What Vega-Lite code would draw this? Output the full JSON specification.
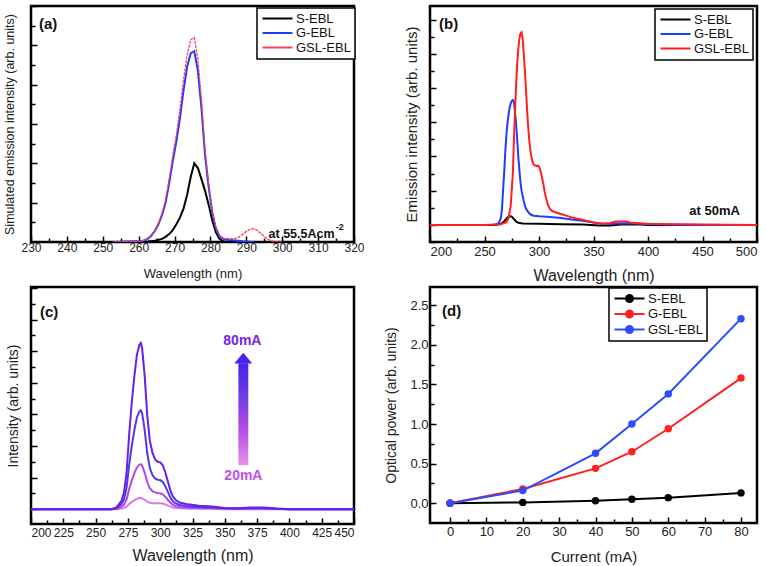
{
"$schema": "https://vega.github.io/schema/vega-lite/v6.json",
"padding": {"left": 2, "top": 4, "right": 5, "bottom": 2},
"background": "white",
"config": {
 "font": "Liberation Sans",
 "view": {"stroke": "#000", "strokeWidth": 2.5},
 "axis": {"domain": false, "grid": false, "tickColor": "#000", "tickWidth": 1.5, "labelColor": "#222", "titleColor": "#222", "titleFontWeight": "normal", "labelFont": "Liberation Sans", "titleFont": "Liberation Sans", "labelFlush": false, "labelOverlap": false},
 "legend": {"title": null, "orient": "none", "fillColor": "white", "strokeColor": "#000", "strokeWidth": 1.5, "padding": 4, "rowPadding": 0.5, "labelFontSize": 13, "labelColor": "#111", "symbolType": "M-3,0L3,0", "symbolSize": 100, "symbolStrokeWidth": 2, "symbolOffset": 10, "labelOffset": 12}
},
"datasets": {
 "a": [
  {"s":"S-EBL","x":255,"y":0},{"s":"S-EBL","x":262.5,"y":0.01},{"s":"S-EBL","x":264.5,"y":0.03},{"s":"S-EBL","x":266.5,"y":0.08},{"s":"S-EBL","x":267.5,"y":0.13},{"s":"S-EBL","x":268.5,"y":0.2},{"s":"S-EBL","x":269.5,"y":0.3},{"s":"S-EBL","x":270.5,"y":0.45},{"s":"S-EBL","x":271.5,"y":0.62},{"s":"S-EBL","x":272.5,"y":0.85},{"s":"S-EBL","x":273.5,"y":1.2},{"s":"S-EBL","x":274.5,"y":1.65},{"s":"S-EBL","x":275.5,"y":2.0},{"s":"S-EBL","x":276.5,"y":1.88},{"s":"S-EBL","x":277.5,"y":1.6},{"s":"S-EBL","x":278.5,"y":1.3},{"s":"S-EBL","x":279.5,"y":0.95},{"s":"S-EBL","x":280.5,"y":0.55},{"s":"S-EBL","x":281.5,"y":0.25},{"s":"S-EBL","x":282.5,"y":0.08},{"s":"S-EBL","x":283.5,"y":0.02},{"s":"S-EBL","x":284.5,"y":0},{"s":"S-EBL","x":292,"y":0},
  {"s":"G-EBL","x":253,"y":0},{"s":"G-EBL","x":258,"y":0.01},{"s":"G-EBL","x":260.5,"y":0.02},{"s":"G-EBL","x":261.5,"y":0.04},{"s":"G-EBL","x":262.5,"y":0.08},{"s":"G-EBL","x":263.5,"y":0.16},{"s":"G-EBL","x":264.5,"y":0.28},{"s":"G-EBL","x":265.5,"y":0.45},{"s":"G-EBL","x":266.5,"y":0.68},{"s":"G-EBL","x":267.5,"y":1.0},{"s":"G-EBL","x":268.5,"y":1.5},{"s":"G-EBL","x":269.5,"y":2.05},{"s":"G-EBL","x":270.5,"y":2.55},{"s":"G-EBL","x":271.5,"y":3.15},{"s":"G-EBL","x":272.5,"y":3.85},{"s":"G-EBL","x":273.5,"y":4.45},{"s":"G-EBL","x":274.5,"y":4.8},{"s":"G-EBL","x":275.5,"y":4.85},{"s":"G-EBL","x":276.5,"y":4.35},{"s":"G-EBL","x":277.5,"y":3.4},{"s":"G-EBL","x":278.5,"y":2.2},{"s":"G-EBL","x":279.5,"y":1.4},{"s":"G-EBL","x":280.5,"y":0.75},{"s":"G-EBL","x":281.5,"y":0.35},{"s":"G-EBL","x":282.5,"y":0.15},{"s":"G-EBL","x":283.5,"y":0.08},{"s":"G-EBL","x":285,"y":0.05},{"s":"G-EBL","x":287,"y":0.04},{"s":"G-EBL","x":289,"y":0.02},{"s":"G-EBL","x":292,"y":0},
  {"s":"GSL-EBL","x":253,"y":0},{"s":"GSL-EBL","x":258,"y":0.01},{"s":"GSL-EBL","x":260.5,"y":0.02},{"s":"GSL-EBL","x":261.5,"y":0.04},{"s":"GSL-EBL","x":262.5,"y":0.09},{"s":"GSL-EBL","x":263.5,"y":0.17},{"s":"GSL-EBL","x":264.5,"y":0.3},{"s":"GSL-EBL","x":265.5,"y":0.48},{"s":"GSL-EBL","x":266.5,"y":0.73},{"s":"GSL-EBL","x":267.5,"y":1.07},{"s":"GSL-EBL","x":268.5,"y":1.6},{"s":"GSL-EBL","x":269.5,"y":2.2},{"s":"GSL-EBL","x":270.5,"y":2.73},{"s":"GSL-EBL","x":271.5,"y":3.37},{"s":"GSL-EBL","x":272.5,"y":4.12},{"s":"GSL-EBL","x":273.5,"y":4.76},{"s":"GSL-EBL","x":274.5,"y":5.14},{"s":"GSL-EBL","x":275.5,"y":5.2},{"s":"GSL-EBL","x":276.5,"y":4.65},{"s":"GSL-EBL","x":277.5,"y":3.6},{"s":"GSL-EBL","x":278.5,"y":2.35},{"s":"GSL-EBL","x":279.5,"y":1.5},{"s":"GSL-EBL","x":280.5,"y":0.8},{"s":"GSL-EBL","x":281.5,"y":0.38},{"s":"GSL-EBL","x":282.5,"y":0.17},{"s":"GSL-EBL","x":283.5,"y":0.1},{"s":"GSL-EBL","x":285,"y":0.08},{"s":"GSL-EBL","x":287,"y":0.09},{"s":"GSL-EBL","x":288,"y":0.13},{"s":"GSL-EBL","x":289,"y":0.2},{"s":"GSL-EBL","x":290,"y":0.27},{"s":"GSL-EBL","x":291,"y":0.32},{"s":"GSL-EBL","x":292,"y":0.34},{"s":"GSL-EBL","x":293,"y":0.3},{"s":"GSL-EBL","x":294,"y":0.22},{"s":"GSL-EBL","x":295,"y":0.14},{"s":"GSL-EBL","x":296,"y":0.07},{"s":"GSL-EBL","x":297,"y":0.03},{"s":"GSL-EBL","x":298,"y":0.01},{"s":"GSL-EBL","x":300,"y":0}
 ],
 "b": [
  {"s":"S-EBL","x":200,"y":0},{"s":"S-EBL","x":260,"y":0},{"s":"S-EBL","x":265,"y":0.03},{"s":"S-EBL","x":268,"y":0.1},{"s":"S-EBL","x":270,"y":0.18},{"s":"S-EBL","x":272,"y":0.24},{"s":"S-EBL","x":273,"y":0.26},{"s":"S-EBL","x":275,"y":0.24},{"s":"S-EBL","x":277,"y":0.17},{"s":"S-EBL","x":279,"y":0.1},{"s":"S-EBL","x":281,"y":0.06},{"s":"S-EBL","x":285,"y":0.04},{"s":"S-EBL","x":300,"y":0.03},{"s":"S-EBL","x":320,"y":0.02},{"s":"S-EBL","x":340,"y":0.01},{"s":"S-EBL","x":355,"y":-0.02},{"s":"S-EBL","x":365,"y":-0.02},{"s":"S-EBL","x":375,"y":0.01},{"s":"S-EBL","x":390,"y":0.02},{"s":"S-EBL","x":400,"y":0},{"s":"S-EBL","x":485,"y":0},
  {"s":"G-EBL","x":258,"y":0},{"s":"G-EBL","x":260,"y":0.01},{"s":"G-EBL","x":263,"y":0.05},{"s":"G-EBL","x":265,"y":0.2},{"s":"G-EBL","x":266,"y":0.45},{"s":"G-EBL","x":267,"y":1.0},{"s":"G-EBL","x":268,"y":1.5},{"s":"G-EBL","x":269,"y":2.1},{"s":"G-EBL","x":270,"y":2.6},{"s":"G-EBL","x":271,"y":2.95},{"s":"G-EBL","x":272,"y":3.2},{"s":"G-EBL","x":273,"y":3.42},{"s":"G-EBL","x":274,"y":3.55},{"s":"G-EBL","x":275,"y":3.62},{"s":"G-EBL","x":276,"y":3.65},{"s":"G-EBL","x":277,"y":3.6},{"s":"G-EBL","x":278,"y":3.3},{"s":"G-EBL","x":279,"y":2.95},{"s":"G-EBL","x":280,"y":2.5},{"s":"G-EBL","x":281,"y":2.0},{"s":"G-EBL","x":282,"y":1.6},{"s":"G-EBL","x":283,"y":1.25},{"s":"G-EBL","x":284,"y":1.0},{"s":"G-EBL","x":285,"y":0.85},{"s":"G-EBL","x":286,"y":0.7},{"s":"G-EBL","x":287,"y":0.57},{"s":"G-EBL","x":288,"y":0.48},{"s":"G-EBL","x":290,"y":0.38},{"s":"G-EBL","x":292,"y":0.31},{"s":"G-EBL","x":295,"y":0.27},{"s":"G-EBL","x":300,"y":0.25},{"s":"G-EBL","x":310,"y":0.23},{"s":"G-EBL","x":320,"y":0.2},{"s":"G-EBL","x":330,"y":0.16},{"s":"G-EBL","x":340,"y":0.12},{"s":"G-EBL","x":350,"y":0.07},{"s":"G-EBL","x":360,"y":0.03},{"s":"G-EBL","x":370,"y":0.04},{"s":"G-EBL","x":380,"y":0.05},{"s":"G-EBL","x":390,"y":0.04},{"s":"G-EBL","x":400,"y":0.02},{"s":"G-EBL","x":420,"y":0.01},{"s":"G-EBL","x":450,"y":0},{"s":"G-EBL","x":500,"y":0},
  {"s":"GSL-EBL","x":200,"y":0},{"s":"GSL-EBL","x":250,"y":0},{"s":"GSL-EBL","x":265,"y":0.02},{"s":"GSL-EBL","x":270,"y":0.08},{"s":"GSL-EBL","x":272,"y":0.2},{"s":"GSL-EBL","x":274,"y":0.55},{"s":"GSL-EBL","x":276,"y":1.5},{"s":"GSL-EBL","x":277,"y":2.5},{"s":"GSL-EBL","x":278,"y":3.3},{"s":"GSL-EBL","x":279,"y":4.1},{"s":"GSL-EBL","x":280,"y":4.7},{"s":"GSL-EBL","x":281,"y":5.15},{"s":"GSL-EBL","x":282,"y":5.45},{"s":"GSL-EBL","x":283,"y":5.6},{"s":"GSL-EBL","x":284,"y":5.63},{"s":"GSL-EBL","x":285,"y":5.45},{"s":"GSL-EBL","x":286,"y":5.0},{"s":"GSL-EBL","x":287,"y":4.55},{"s":"GSL-EBL","x":288,"y":4.0},{"s":"GSL-EBL","x":289,"y":3.4},{"s":"GSL-EBL","x":290,"y":2.9},{"s":"GSL-EBL","x":291,"y":2.5},{"s":"GSL-EBL","x":292,"y":2.2},{"s":"GSL-EBL","x":293,"y":2.0},{"s":"GSL-EBL","x":294,"y":1.85},{"s":"GSL-EBL","x":295,"y":1.77},{"s":"GSL-EBL","x":296,"y":1.74},{"s":"GSL-EBL","x":297,"y":1.74},{"s":"GSL-EBL","x":298,"y":1.72},{"s":"GSL-EBL","x":299,"y":1.73},{"s":"GSL-EBL","x":300,"y":1.7},{"s":"GSL-EBL","x":301,"y":1.62},{"s":"GSL-EBL","x":302,"y":1.5},{"s":"GSL-EBL","x":303,"y":1.35},{"s":"GSL-EBL","x":304,"y":1.2},{"s":"GSL-EBL","x":305,"y":1.0},{"s":"GSL-EBL","x":306,"y":0.85},{"s":"GSL-EBL","x":307,"y":0.72},{"s":"GSL-EBL","x":308,"y":0.6},{"s":"GSL-EBL","x":310,"y":0.47},{"s":"GSL-EBL","x":312,"y":0.41},{"s":"GSL-EBL","x":315,"y":0.37},{"s":"GSL-EBL","x":320,"y":0.32},{"s":"GSL-EBL","x":325,"y":0.27},{"s":"GSL-EBL","x":330,"y":0.22},{"s":"GSL-EBL","x":335,"y":0.18},{"s":"GSL-EBL","x":340,"y":0.15},{"s":"GSL-EBL","x":345,"y":0.11},{"s":"GSL-EBL","x":350,"y":0.07},{"s":"GSL-EBL","x":355,"y":0.05},{"s":"GSL-EBL","x":360,"y":0.04},{"s":"GSL-EBL","x":365,"y":0.05},{"s":"GSL-EBL","x":370,"y":0.1},{"s":"GSL-EBL","x":375,"y":0.1},{"s":"GSL-EBL","x":380,"y":0.1},{"s":"GSL-EBL","x":385,"y":0.06},{"s":"GSL-EBL","x":390,"y":0.05},{"s":"GSL-EBL","x":400,"y":0.03},{"s":"GSL-EBL","x":420,"y":0.02},{"s":"GSL-EBL","x":450,"y":0.01},{"s":"GSL-EBL","x":500,"y":0}
 ],
 "c": [
  {"s":"20mA","x":200,"y":0},{"s":"20mA","x":262,"y":0},{"s":"20mA","x":266,"y":0},{"s":"20mA","x":270,"y":0.02},{"s":"20mA","x":272,"y":0.04},{"s":"20mA","x":274,"y":0.08},{"s":"20mA","x":276,"y":0.16},{"s":"20mA","x":278,"y":0.23},{"s":"20mA","x":280,"y":0.28},{"s":"20mA","x":282,"y":0.33},{"s":"20mA","x":284,"y":0.35},{"s":"20mA","x":285,"y":0.35},{"s":"20mA","x":286,"y":0.34},{"s":"20mA","x":288,"y":0.3},{"s":"20mA","x":290,"y":0.24},{"s":"20mA","x":292,"y":0.2},{"s":"20mA","x":294,"y":0.19},{"s":"20mA","x":296,"y":0.19},{"s":"20mA","x":298,"y":0.19},{"s":"20mA","x":300,"y":0.19},{"s":"20mA","x":302,"y":0.18},{"s":"20mA","x":304,"y":0.15},{"s":"20mA","x":306,"y":0.11},{"s":"20mA","x":308,"y":0.08},{"s":"20mA","x":310,"y":0.05},{"s":"20mA","x":312,"y":0.04},{"s":"20mA","x":315,"y":0.03},{"s":"20mA","x":320,"y":0.02},{"s":"20mA","x":330,"y":0.01},{"s":"20mA","x":340,"y":0.01},{"s":"20mA","x":350,"y":0},{"s":"20mA","x":450,"y":0},
  {"s":"40mA","x":200,"y":0},{"s":"40mA","x":262,"y":0},{"s":"40mA","x":266,"y":0.01},{"s":"40mA","x":270,"y":0.07},{"s":"40mA","x":272,"y":0.14},{"s":"40mA","x":274,"y":0.31},{"s":"40mA","x":276,"y":0.64},{"s":"40mA","x":278,"y":0.91},{"s":"40mA","x":280,"y":1.14},{"s":"40mA","x":282,"y":1.32},{"s":"40mA","x":284,"y":1.41},{"s":"40mA","x":285,"y":1.42},{"s":"40mA","x":286,"y":1.38},{"s":"40mA","x":288,"y":1.15},{"s":"40mA","x":290,"y":0.85},{"s":"40mA","x":292,"y":0.66},{"s":"40mA","x":294,"y":0.57},{"s":"40mA","x":296,"y":0.53},{"s":"40mA","x":298,"y":0.51},{"s":"40mA","x":300,"y":0.5},{"s":"40mA","x":302,"y":0.47},{"s":"40mA","x":304,"y":0.39},{"s":"40mA","x":306,"y":0.29},{"s":"40mA","x":308,"y":0.2},{"s":"40mA","x":310,"y":0.13},{"s":"40mA","x":312,"y":0.1},{"s":"40mA","x":315,"y":0.07},{"s":"40mA","x":320,"y":0.05},{"s":"40mA","x":330,"y":0.04},{"s":"40mA","x":340,"y":0.03},{"s":"40mA","x":350,"y":0.02},{"s":"40mA","x":360,"y":0.01},{"s":"40mA","x":370,"y":0.02},{"s":"40mA","x":380,"y":0.02},{"s":"40mA","x":390,"y":0.01},{"s":"40mA","x":400,"y":0},{"s":"40mA","x":450,"y":0},
  {"s":"60mA","x":200,"y":0},{"s":"60mA","x":262,"y":0},{"s":"60mA","x":266,"y":0.03},{"s":"60mA","x":270,"y":0.16},{"s":"60mA","x":272,"y":0.31},{"s":"60mA","x":274,"y":0.69},{"s":"60mA","x":276,"y":1.41},{"s":"60mA","x":278,"y":2.0},{"s":"60mA","x":280,"y":2.5},{"s":"60mA","x":282,"y":2.91},{"s":"60mA","x":284,"y":3.1},{"s":"60mA","x":285,"y":3.13},{"s":"60mA","x":286,"y":3.04},{"s":"60mA","x":288,"y":2.5},{"s":"60mA","x":290,"y":1.76},{"s":"60mA","x":292,"y":1.3},{"s":"60mA","x":294,"y":1.08},{"s":"60mA","x":296,"y":0.97},{"s":"60mA","x":298,"y":0.93},{"s":"60mA","x":300,"y":0.92},{"s":"60mA","x":302,"y":0.86},{"s":"60mA","x":304,"y":0.72},{"s":"60mA","x":306,"y":0.54},{"s":"60mA","x":308,"y":0.36},{"s":"60mA","x":310,"y":0.24},{"s":"60mA","x":312,"y":0.18},{"s":"60mA","x":315,"y":0.13},{"s":"60mA","x":320,"y":0.1},{"s":"60mA","x":330,"y":0.07},{"s":"60mA","x":340,"y":0.05},{"s":"60mA","x":350,"y":0.03},{"s":"60mA","x":360,"y":0.02},{"s":"60mA","x":370,"y":0.03},{"s":"60mA","x":380,"y":0.03},{"s":"60mA","x":390,"y":0.01},{"s":"60mA","x":400,"y":0},{"s":"60mA","x":450,"y":0},
  {"s":"80mA","x":200,"y":0},{"s":"80mA","x":262,"y":0},{"s":"80mA","x":266,"y":0.05},{"s":"80mA","x":270,"y":0.26},{"s":"80mA","x":272,"y":0.53},{"s":"80mA","x":274,"y":1.16},{"s":"80mA","x":276,"y":2.37},{"s":"80mA","x":278,"y":3.37},{"s":"80mA","x":280,"y":4.21},{"s":"80mA","x":282,"y":4.89},{"s":"80mA","x":284,"y":5.21},{"s":"80mA","x":285,"y":5.26},{"s":"80mA","x":286,"y":5.1},{"s":"80mA","x":288,"y":4.21},{"s":"80mA","x":290,"y":2.95},{"s":"80mA","x":292,"y":2.16},{"s":"80mA","x":294,"y":1.79},{"s":"80mA","x":296,"y":1.58},{"s":"80mA","x":298,"y":1.5},{"s":"80mA","x":300,"y":1.48},{"s":"80mA","x":302,"y":1.39},{"s":"80mA","x":304,"y":1.16},{"s":"80mA","x":306,"y":0.87},{"s":"80mA","x":308,"y":0.58},{"s":"80mA","x":310,"y":0.39},{"s":"80mA","x":312,"y":0.29},{"s":"80mA","x":315,"y":0.21},{"s":"80mA","x":320,"y":0.16},{"s":"80mA","x":330,"y":0.11},{"s":"80mA","x":340,"y":0.08},{"s":"80mA","x":350,"y":0.04},{"s":"80mA","x":360,"y":0.03},{"s":"80mA","x":370,"y":0.05},{"s":"80mA","x":380,"y":0.05},{"s":"80mA","x":390,"y":0.02},{"s":"80mA","x":400,"y":0},{"s":"80mA","x":450,"y":0}
 ],
 "d": [
  {"s":"S-EBL","x":0,"y":0},{"s":"S-EBL","x":20,"y":0.01},{"s":"S-EBL","x":40,"y":0.03},{"s":"S-EBL","x":50,"y":0.05},{"s":"S-EBL","x":60,"y":0.07},{"s":"S-EBL","x":80,"y":0.13},
  {"s":"G-EBL","x":0,"y":0},{"s":"G-EBL","x":20,"y":0.18},{"s":"G-EBL","x":40,"y":0.44},{"s":"G-EBL","x":50,"y":0.65},{"s":"G-EBL","x":60,"y":0.94},{"s":"G-EBL","x":80,"y":1.58},
  {"s":"GSL-EBL","x":0,"y":0},{"s":"GSL-EBL","x":20,"y":0.16},{"s":"GSL-EBL","x":40,"y":0.63},{"s":"GSL-EBL","x":50,"y":1.0},{"s":"GSL-EBL","x":60,"y":1.38},{"s":"GSL-EBL","x":80,"y":2.33}
 ],
 "one": [{"k": 1}]
},
"columns": 2,
"spacing": {"row": 45, "column": 76},
"bounds": "flush",
"resolve": {"scale": {"color": "independent"}, "legend": {"color": "independent"}},
"concat": [
  {"width": 323, "height": 236,
   "resolve": {"axis": {"x": "independent", "y": "independent"}},
   "layer": [
    {"data": {"name": "a"}, "transform": [{"filter": "datum.s !== 'GSL-EBL'"}], "mark": {"type": "line", "strokeWidth": 2, "clip": true},
     "encoding": {
      "x": {"field": "x", "type": "quantitative", "scale": {"domain": [230, 320], "nice": false, "zero": false},
        "axis": {"title": "Wavelength (nm)", "titleFontSize": 13, "titlePadding": 12, "labelFontSize": 12, "labelPadding": 6,
          "values": [230,235,240,245,250,255,260,265,270,275,280,285,290,295,300,305,310,315,320],
          "labelExpr": "datum.value % 10 === 0 ? datum.label : ''",
          "tickSize": {"condition": {"test": "datum.value % 10 === 0", "value": -6}, "value": -4}}},
      "y": {"field": "y", "type": "quantitative", "scale": {"domain": [0, 6], "nice": false, "zero": false},
        "axis": {"title": "Simulated emission intensity (arb. units)", "titleFontSize": 12.5, "titlePadding": 14, "labels": false,
          "values": [0,0.5,1,1.5,2,2.5,3,3.5,4,4.5,5,5.5,6],
          "tickSize": {"condition": {"test": "datum.value % 1 === 0", "value": -6}, "value": -4}}},
      "color": {"field": "s", "type": "nominal", "scale": {"domain": ["S-EBL","G-EBL","GSL-EBL"], "range": ["#000000","#1f3cff","#ff4055"]},
       "legend": {"legendX": 226, "legendY": 2}}}},
    {"data": {"name": "a"}, "transform": [{"filter": "datum.s === 'GSL-EBL'"}], "mark": {"type": "line", "strokeWidth": 1.3, "strokeDash": [3, 1], "clip": true},
     "encoding": {"x": {"field": "x", "type": "quantitative", "axis": null}, "y": {"field": "y", "type": "quantitative", "axis": null}, "color": {"field": "s", "type": "nominal"}}},
    {"data": {"name": "one"}, "mark": {"type": "text", "text": "(a)", "fontSize": 15, "fontWeight": "bold", "align": "left", "baseline": "middle", "color": "#111"},
     "encoding": {"x": {"datum": 232.2, "type": "quantitative", "axis": null}, "y": {"datum": 5.55, "type": "quantitative", "axis": null}}},
    {"data": {"name": "one"}, "mark": {"type": "text", "text": "at 55.5Acm", "fontSize": 12.5, "fontWeight": "bold", "align": "left", "baseline": "middle", "color": "#111"},
     "encoding": {"x": {"datum": 296.2, "type": "quantitative", "axis": null}, "y": {"datum": 0.2, "type": "quantitative", "axis": null}}},
    {"data": {"name": "one"}, "mark": {"type": "text", "text": "-2", "fontSize": 9, "fontWeight": "bold", "align": "left", "baseline": "middle", "color": "#111"},
     "encoding": {"x": {"datum": 314.9, "type": "quantitative", "axis": null}, "y": {"datum": 0.38, "type": "quantitative", "axis": null}}}
   ]
  },
  {"width": 327, "height": 236,
   "resolve": {"axis": {"x": "independent", "y": "independent"}},
   "layer": [
    {"data": {"name": "b"}, "mark": {"type": "line", "strokeWidth": 2, "clip": true},
     "encoding": {
      "x": {"field": "x", "type": "quantitative", "scale": {"domain": [200, 500], "nice": false, "zero": false},
        "axis": {"title": "Wavelength (nm)", "titleFontSize": 16, "titlePadding": 7, "labelFontSize": 13, "labelPadding": 9, "labelFlush": true,
          "values": [200,225,250,275,300,325,350,375,400,425,450,475,500],
          "labelExpr": "datum.value % 50 === 0 ? datum.label : ''",
          "tickSize": {"condition": {"test": "datum.value % 50 === 0", "value": -6}, "value": -4}}},
      "y": {"field": "y", "type": "quantitative", "scale": {"domain": [-0.5, 6.4], "nice": false, "zero": false},
        "axis": {"title": "Emission intensity (arb. units)", "titleFontSize": 15, "titlePadding": 10, "labels": false,
          "values": [-0.5,0,0.5,1,1.5,2,2.5,3,3.5,4,4.5,5,5.5,6],
          "tickSize": {"condition": {"test": "datum.value % 1 === 0", "value": -6}, "value": -4}}},
      "color": {"field": "s", "type": "nominal", "scale": {"domain": ["S-EBL","G-EBL","GSL-EBL"], "range": ["#000000","#1f3cff","#ff1f1f"]},
       "legend": {"legendX": 225, "legendY": 3}}}},
    {"data": {"name": "one"}, "mark": {"type": "text", "text": "(b)", "fontSize": 15, "fontWeight": "bold", "align": "left", "baseline": "middle", "color": "#111"},
     "encoding": {"x": {"datum": 208.3, "type": "quantitative", "axis": null}, "y": {"datum": 5.87, "type": "quantitative", "axis": null}}},
    {"data": {"name": "one"}, "mark": {"type": "text", "text": "at 50mA", "fontSize": 13, "fontWeight": "bold", "align": "right", "baseline": "middle", "color": "#111"},
     "encoding": {"x": {"datum": 484.3, "type": "quantitative", "axis": null}, "y": {"datum": 0.41, "type": "quantitative", "axis": null}}}
   ]
  },
  {"width": 323, "height": 237,
   "resolve": {"axis": {"x": "independent", "y": "independent"}},
   "layer": [
    {"data": {"name": "c"}, "mark": {"type": "line", "strokeWidth": 2, "clip": true},
     "encoding": {
      "x": {"field": "x", "type": "quantitative", "scale": {"domain": [200, 450], "nice": false, "zero": false},
        "axis": {"title": "Wavelength (nm)", "titleFontSize": 16, "titlePadding": 7, "labelFontSize": 12, "labelPadding": 9, "labelFlush": true,
          "values": [200,212.5,225,237.5,250,262.5,275,287.5,300,312.5,325,337.5,350,362.5,375,387.5,400,412.5,425,437.5,450],
          "labelExpr": "datum.value % 25 === 0 ? datum.label : ''",
          "tickSize": {"condition": {"test": "datum.value % 25 === 0", "value": -6}, "value": -4}}},
      "y": {"field": "y", "type": "quantitative", "scale": {"domain": [-0.47, 7.03], "nice": false, "zero": false},
        "axis": {"title": "Intensity (arb. units)", "titleFontSize": 14, "titlePadding": 10, "labels": false,
          "values": [0,0.5,1,1.5,2,2.5,3,3.5,4,4.5,5,5.5,6,6.5,7],
          "tickSize": {"condition": {"test": "datum.value % 1 === 0", "value": -6}, "value": -4}}},
      "color": {"field": "s", "type": "nominal", "scale": {"domain": ["20mA","40mA","60mA","80mA"], "range": ["#d77ae8","#b246e6","#4b3ce6","#6a1fe8"]}, "legend": null}}},
    {"data": {"name": "one"}, "mark": {"type": "rect", "clip": true, "color": {"gradient": "linear", "x1": 0, "y1": 1, "x2": 0, "y2": 0, "stops": [{"offset": 0, "color": "#e792e6"}, {"offset": 0.35, "color": "#b44ee4"}, {"offset": 0.7, "color": "#6a3ae4"}, {"offset": 1, "color": "#4a22ee"}]}},
     "encoding": {"x": {"datum": 360.5, "type": "quantitative", "axis": null}, "x2": {"datum": 368.2}, "y": {"datum": 1.39, "type": "quantitative", "axis": null}, "y2": {"datum": 4.62}}},
    {"data": {"name": "one"}, "mark": {"type": "point", "shape": "M0,-0.6L1,0.6L-1,0.6Z", "size": 324, "filled": true, "opacity": 1, "color": "#4a22ee"},
     "encoding": {"x": {"datum": 364.3, "type": "quantitative", "axis": null}, "y": {"datum": 4.78, "type": "quantitative", "axis": null}}},
    {"data": {"name": "one"}, "mark": {"type": "text", "text": "(c)", "fontSize": 15, "fontWeight": "bold", "align": "left", "baseline": "middle", "color": "#111"},
     "encoding": {"x": {"datum": 206.9, "type": "quantitative", "axis": null}, "y": {"datum": 6.24, "type": "quantitative", "axis": null}}},
    {"data": {"name": "one"}, "mark": {"type": "text", "text": "80mA", "fontSize": 14, "fontWeight": "bold", "align": "center", "baseline": "middle", "color": "#7a22e6"},
     "encoding": {"x": {"datum": 363.6, "type": "quantitative", "axis": null}, "y": {"datum": 5.33, "type": "quantitative", "axis": null}}},
    {"data": {"name": "one"}, "mark": {"type": "text", "text": "20mA", "fontSize": 14, "fontWeight": "bold", "align": "center", "baseline": "middle", "color": "#c052e4"},
     "encoding": {"x": {"datum": 364.4, "type": "quantitative", "axis": null}, "y": {"datum": 1.04, "type": "quantitative", "axis": null}}}
   ]
  },
  {"width": 327, "height": 236,
   "resolve": {"axis": {"x": "independent", "y": "independent"}},
   "layer": [
    {"data": {"name": "d"}, "mark": {"type": "line", "strokeWidth": 2},
     "encoding": {
      "x": {"field": "x", "type": "quantitative", "scale": {"domain": [-5.5, 84.4], "nice": false, "zero": false},
        "axis": {"title": "Current (mA)", "titleFontSize": 15, "titlePadding": 9, "labelFontSize": 13, "labelPadding": 8,
          "values": [0,5,10,15,20,25,30,35,40,45,50,55,60,65,70,75,80],
          "labelExpr": "datum.value % 10 === 0 ? datum.label : ''",
          "tickSize": {"condition": {"test": "datum.value % 10 === 0", "value": -6}, "value": -4}}},
      "y": {"field": "y", "type": "quantitative", "scale": {"domain": [-0.25, 2.73], "nice": false, "zero": false},
        "axis": {"title": "Optical power (arb. units)", "titleFontSize": 14, "titlePadding": 11, "labelFontSize": 13, "labelPadding": 8,
          "values": [0,0.25,0.5,0.75,1,1.25,1.5,1.75,2,2.25,2.5],
          "labelExpr": "round(datum.value * 4) % 2 === 0 ? format(datum.value, '.1f') : ''",
          "tickSize": {"condition": {"test": "round(datum.value * 4) % 2 === 0", "value": -6}, "value": -4}}},
      "color": {"field": "s", "type": "nominal", "scale": {"domain": ["S-EBL","G-EBL","GSL-EBL"], "range": ["#000000","#ff2020","#2e4bff"]},
       "legend": {"legendX": 179, "legendY": 1, "symbolType": "M-3,0L3,0M-0.7,0A0.7,0.7,0,1,1,0.7,0A0.7,0.7,0,1,1,-0.7,0",
         "encode": {"symbols": {"update": {"fill": {"signal": "datum.value === 'S-EBL' ? '#000000' : datum.value === 'G-EBL' ? '#ff2020' : '#2e4bff'"}}}}}}}},
    {"data": {"name": "d"}, "mark": {"type": "point", "filled": true, "size": 55, "opacity": 1},
     "encoding": {"x": {"field": "x", "type": "quantitative", "axis": null}, "y": {"field": "y", "type": "quantitative", "axis": null}, "color": {"field": "s", "type": "nominal"}}},
    {"data": {"name": "one"}, "mark": {"type": "text", "text": "(d)", "fontSize": 15, "fontWeight": "bold", "align": "left", "baseline": "middle", "color": "#111"},
     "encoding": {"x": {"datum": -2.2, "type": "quantitative", "axis": null}, "y": {"datum": 2.43, "type": "quantitative", "axis": null}}}
   ]
  }
]
}
